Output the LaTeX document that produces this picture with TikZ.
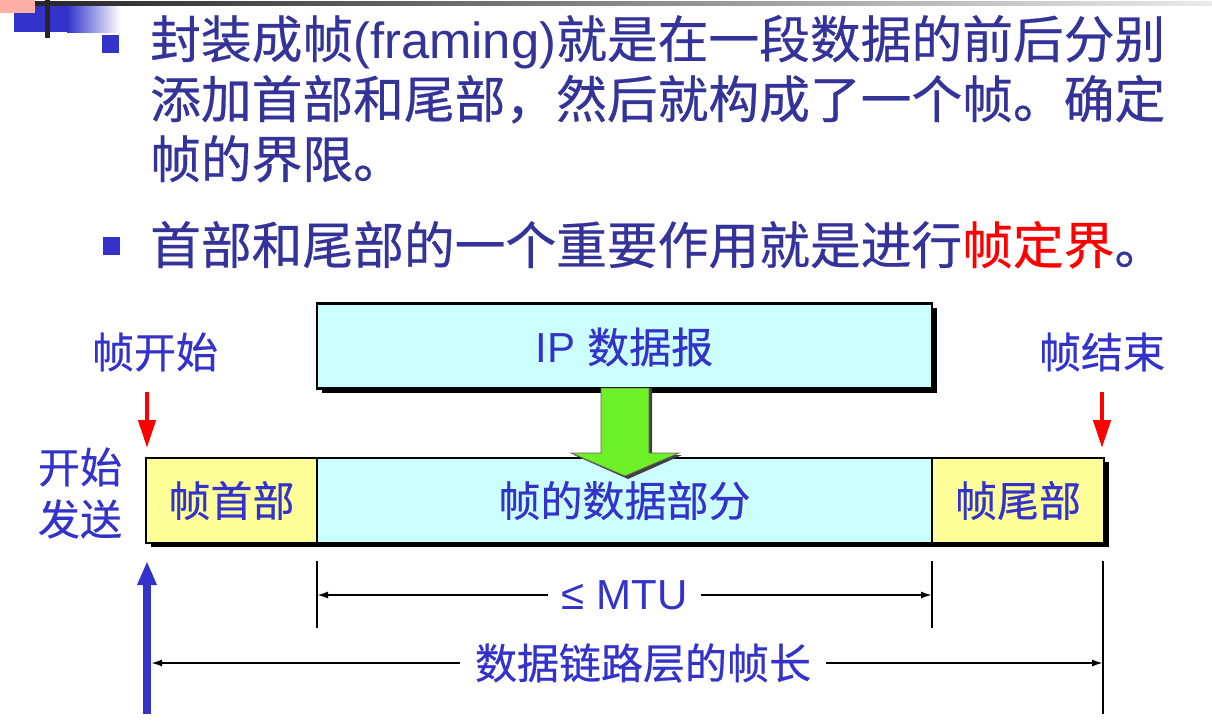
\documentclass[tikz,border=0pt]{standalone}
\usepackage{fontspec}
\setmainfont{Liberation Sans}
\newfontfamily\cjk{Noto Sans CJK SC}[FakeBold=0.5]
\usetikzlibrary{arrows.meta,shadows}
\definecolor{navy}{RGB}{51,51,153}
\definecolor{lblue}{RGB}{51,51,204}
\definecolor{cyanfill}{RGB}{204,255,255}
\definecolor{yelfill}{RGB}{255,255,153}
\definecolor{grn}{RGB}{110,240,40}
\definecolor{pinkc}{RGB}{255,175,165}
\begin{document}
\begin{tikzpicture}[x=1pt,y=-1pt,
  body/.style={anchor=base west, inner sep=0pt, text=navy, font=\fontsize{50.75}{60}\selectfont},
  lbl/.style={text=lblue, font=\fontsize{42}{52}\selectfont\cjk, inner sep=0pt},
  box/.style={draw=black, line width=2.5pt, minimum height=85pt, inner sep=0pt,
    drop shadow={shadow xshift=4.5pt, shadow yshift=-4pt, fill=black, opacity=1}},
  dim/.style={line width=1.8pt, -{Latex[length=11pt,width=7pt]}},
  tick/.style={line width=1.8pt},
  redarr/.style={draw=red, line width=4.5pt, -{Triangle[length=28pt,width=17pt]}},
  bluearr/.style={draw=lblue, line width=8pt, -{Triangle[length=24pt,width=18pt]}},
  dimlbl/.style={fill=white, inner ysep=0pt, text=lblue, font=\fontsize{42}{52}\selectfont}
]
\useasboundingbox (0,0) rectangle (1212,724);
% top-left decoration
\fill[lblue] (14,5) rectangle (67,32);
\shade[left color=lblue, right color=white] (67,5) rectangle (120,32);
\fill[pinkc] (0,0) rectangle (35,13);
\shade[left color=black!85, right color=black!8] (35,1.5) rectangle (1212,5);
\fill[black!85] (45,0) rectangle (50,38);
% bullets
\fill[lblue] (102,35) rectangle (119,53);
\fill[lblue] (103,237) rectangle (120,255);
% body text
\node[body] (l1) at (150,58) {{\cjk 封装成帧}(framing){\cjk 就是在一段数据的前后分别}};
\node[body] (l2) at (150,118) {\cjk 添加首部和尾部，然后就构成了一个帧。确定};
\node[body] (l3) at (150,178) {\cjk 帧的界限。};
\node[body] (l4) at (150,264) {\cjk 首部和尾部的一个重要作用就是进行\textcolor{red}{帧定界}。};
% IP box
\node[box, fill=cyanfill, minimum width=615pt] (ip) at (624.5,346) {};
\node[lbl] (iplbl) at (624.5,347) {{\rmfamily IP }数据报};
% frame
\node[box, fill=yelfill, minimum width=171pt] (hdr) at (231.5,500.5) {};
\node[box, fill=cyanfill, minimum width=615pt] (data) at (624.5,500.5) {};
\node[box, fill=yelfill, minimum width=172pt] (trl) at (1018,500.5) {};
\node[lbl] at (hdr.center) {帧首部};
\node[lbl] at (data.center) {帧的数据部分};
\node[lbl] at (trl.center) {帧尾部};
% green arrow
\fill[black!75] (604,388) -- (652,388) -- (652,455) -- (682,455) -- (628,479) -- (574,455) -- (604,455) -- cycle;
\filldraw[fill=grn, draw=black!60, line width=0.8pt] (601,388) -- (649,388) -- (649,453) -- (679,453) -- (625,476) -- (571,453) -- (601,453) -- cycle;
% labels
\node[lbl] (fs) at (155,352) {帧开始};
\node[lbl] (fe) at (1102,352) {帧结束};
\node[lbl] (ks1) at (80,467) {开始};
\node[lbl] (ks2) at (80,519) {发送};
% red arrows
\coordinate (r1a) at (147,392); \coordinate (r1b) at (147,448);
\coordinate (r2a) at (1102,392); \coordinate (r2b) at (1102,448);
\draw[redarr] (r1a) -- (r1b);
\draw[redarr] (r2a) -- (r2b);
% blue arrow
\coordinate (ba) at (147,714); \coordinate (bb) at (147,561);
\draw[bluearr] (ba) -- (bb);
% ticks
\coordinate (t1a) at (317,561); \coordinate (t1b) at (317,628);
\coordinate (t2a) at (932,561); \coordinate (t2b) at (932,628);
\coordinate (t3a) at (1103,561); \coordinate (t3b) at (1103,714);
\draw[tick] (t1a) -- (t1b);
\draw[tick] (t2a) -- (t2b);
\draw[tick] (t3a) -- (t3b);
% MTU dimension
\node[dimlbl, inner xsep=13pt] (mtu) at (624.5,595) {≤ MTU};
\coordinate (mL) at (317,595); \coordinate (mR) at (932,595);
\draw[dim] (mtu.west) -- (mL);
\draw[dim] (mtu.east) -- (mR);
% frame length dimension
\node[dimlbl, inner xsep=15pt, font=\fontsize{42}{52}\selectfont\cjk] (fl) at (643,663) {数据链路层的帧长};
\coordinate (fL) at (151,663); \coordinate (fR) at (1103,663);
\draw[dim] (fl.west) -- (fL);
\draw[dim] (fl.east) -- (fR);
\end{tikzpicture}
\end{document}
